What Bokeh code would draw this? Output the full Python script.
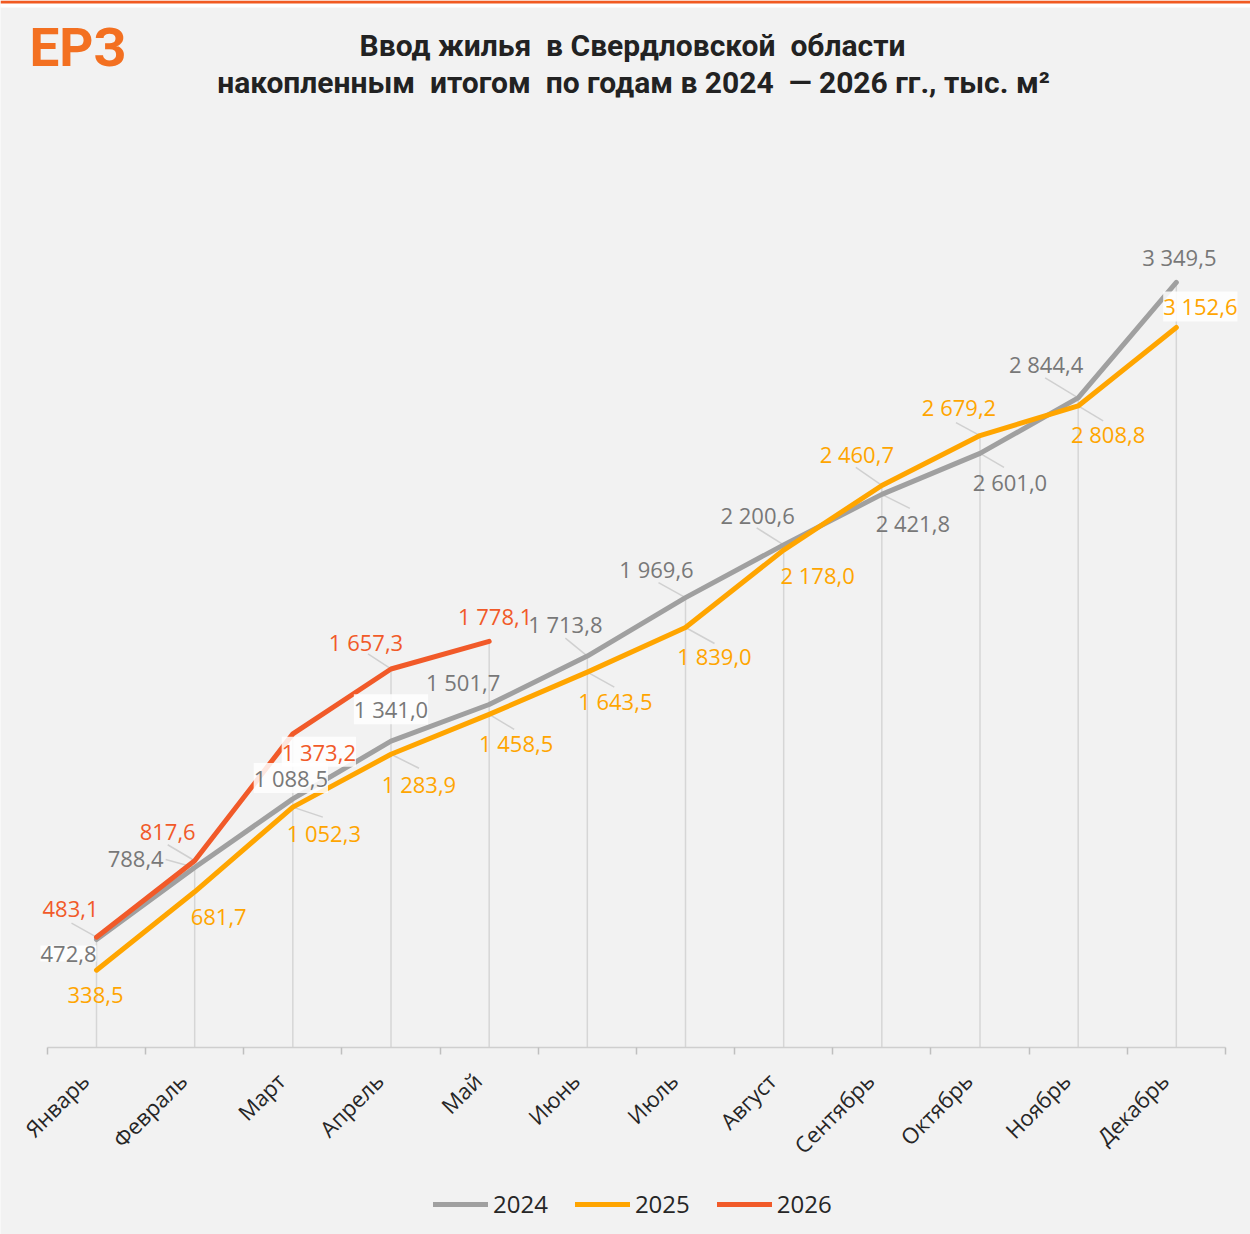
import math
from bokeh.plotting import figure
from bokeh.models import (ColumnDataSource, Range1d, FixedTicker, LabelSet, Label,
                          Legend, LegendItem, CustomJSTickFormatter)
from bokeh.core.properties import value
from bokeh.embed import file_html
from bokeh.resources import INLINE

# ---------------- data ----------------
months = ["Январь", "Февраль", "Март", "Апрель", "Май", "Июнь", "Июль",
          "Август", "Сентябрь", "Октябрь", "Ноябрь", "Декабрь"]
y2024 = [472.8, 788.4, 1088.5, 1341.0, 1501.7, 1713.8, 1969.6, 2200.6,
         2421.8, 2601.0, 2844.4, 3349.5]
y2025 = [338.5, 681.7, 1052.3, 1283.9, 1458.5, 1643.5, 1839.0, 2178.0,
         2460.7, 2679.2, 2808.8, 3152.6]
y2026 = [483.1, 817.6, 1373.2, 1657.3, 1778.1]
years = ["2024", "2025", "2026"]

NB = "\u00a0"
TITLE1 = f"Ввод жилья {NB}в Свердловской {NB}области"
TITLE2 = f"накопленным {NB}итогом {NB}по годам в 2024 {NB}— 2026 гг., тыс. м²"
LOGO = "ЕРЗ"

# ---------------- style / layout ----------------
W, H = 1250, 1234
AXIS_Y = 1047              # pixel row of the x axis
FIRST_X = 96               # pixel column of first category
PX_X = 1178 / 12.0         # pixels per category
PX_Y = 0.2284              # pixels per unit
X0 = -FIRST_X / PX_X
X1 = (W - FIRST_X) / PX_X
YEND = AXIS_Y / PX_Y
YSTART = -(H - AXIS_Y) / PX_Y
LABEL_SHIFT = 12 / PX_X    # tick labels sit slightly left of the category centre

BG = "#f2f2f2"
C24, C25, C26 = "#a0a0a0", "#ffa500", "#f15a29"
T24, T25, T26 = "#787878", "#ffa500", "#f15a29"
FONT = "Open Sans"

# label offsets (px, y up), background flag, leader offset (px) or None
off24 = [(-28, -14), (-59, 8), (-2, 21), (0, 32), (-26, 23), (-22, 32),
         (-29, 29), (-26, 30), (31, -29), (30, -29), (-32, 34), (3, 25)]
bg24 = [True, False, True, True] + [False] * 8
lead24 = [None, (-29, 8), None, None, None, (-22, 18), (-27, 15), (-27, 17),
          (28, -14), (24, -14), (-33, 20), None]

off25 = [(-1, -25), (24, -25), (31, -26), (28, -30), (27, -29), (28, -29),
         (29, -29), (34, -25), (-25, 31), (-21, 29), (30, -28), (24, 21)]
bg25 = [False] * 11 + [True]
lead25 = [None, None, (30, -10), (28, -14), (25, -15), (27, -15), (29, -16),
          None, (-26, 18), (-24, 13), (25, -15), None]

off26 = [(-26, 28), (-27, 29), (26, -18), (-25, 27), (6, 25)]
bg26 = [False, False, True, False, False]
lead26 = [(-25, 14), (-27, 16), None, (-23, 15), None]


def fmt(v):
    return f"{v:,.1f}".replace(",", " ").replace(".", ",")


p = figure(width=W, height=H, output_backend="svg", toolbar_location=None,
           x_range=Range1d(X0, X1), y_range=Range1d(YSTART, YEND),
           min_border_left=0, min_border_right=0, min_border_top=0,
           min_border_bottom=0, background_fill_color=BG,
           border_fill_color=BG, outline_line_color=None)
p.xgrid.visible = False
p.ygrid.visible = False
p.yaxis.visible = False

xs = list(range(12))

# page decoration: orange rule and white strip at the very top
p.quad(left=X0, right=X1, top=YEND, bottom=YEND - 7 / PX_Y, fill_color="white", line_color=None)
p.quad(left=X0, right=X1, top=YEND, bottom=YEND - 3 / PX_Y, fill_color="#f15a22", line_color=None)

# drop lines
drop_top = []
for i in xs:
    cand = [y2024[i], y2025[i]] + ([y2026[i]] if i < len(y2026) else [])
    drop_top.append(max(cand))
p.segment(x0=xs, y0=[0] * 12, x1=xs, y1=drop_top, line_color="#d6d6d6", line_width=1.5)

# leader lines
lx0, ly0, lx1, ly1 = [], [], [], []
for vals, leads in ((y2024, lead24), (y2025, lead25), (y2026, lead26)):
    for i, (v, ld) in enumerate(zip(vals, leads)):
        if ld is None:
            continue
        lx0.append(i)
        ly0.append(v)
        lx1.append(i + ld[0] / PX_X)
        ly1.append(v + ld[1] / PX_Y)
p.segment(x0=lx0, y0=ly0, x1=lx1, y1=ly1, line_color="#d0d0d0", line_width=1.5)

# series lines
r24 = p.line(xs, y2024, line_color=C24, line_width=5, line_cap="round", line_join="round")
r25 = p.line(xs, y2025, line_color=C25, line_width=5, line_cap="round", line_join="round")
r26 = p.line(xs[:len(y2026)], y2026, line_color=C26, line_width=5, line_cap="round", line_join="round")

# data labels
for vals, offs, bgs, col in ((y2024, off24, bg24, T24), (y2025, off25, bg25, T25),
                             (y2026, off26, bg26, T26)):
    for with_bg in (True, False):
        idx = [i for i in range(len(vals)) if bgs[i] == with_bg]
        if not idx:
            continue
        src = ColumnDataSource(dict(
            x=[xs[i] for i in idx], y=[vals[i] for i in idx],
            t=[fmt(vals[i]) for i in idx],
            dx=[offs[i][0] for i in idx], dy=[offs[i][1] for i in idx]))
        kw = {}
        if with_bg:
            kw = dict(background_fill_color="white", background_fill_alpha=0.85)
        ls = LabelSet(x="x", y="y", text="t", x_offset="dx", y_offset="dy", source=src,
                      text_align="center", text_baseline="middle",
                      text_font=value(FONT), text_font_size="22px", text_color=col, **kw)
        p.add_layout(ls)

# axis (drawn at y = 0 inside the frame)
ax = p.xaxis[0]
ax.fixed_location = 0
ax.bounds = (-0.5, 11.5)
ax.ticker = FixedTicker(ticks=[i - LABEL_SHIFT for i in xs],
                        minor_ticks=[i - 0.5 for i in range(13)])
ax.formatter = CustomJSTickFormatter(args=dict(labels=months),
                                     code="return labels[Math.round(tick)] || '';")
ax.major_tick_out = 0
ax.major_tick_in = 0
ax.minor_tick_out = 7
ax.minor_tick_in = 0
ax.minor_tick_line_color = "#bfbfbf"
ax.minor_tick_line_width = 1.5
ax.axis_line_color = "#cfcfcf"
ax.axis_line_width = 1.5
ax.major_label_orientation = math.pi / 4
ax.major_label_text_font = FONT
ax.major_label_text_font_size = "22px"
ax.major_label_text_color = "#262626"
ax.major_label_standoff = 22

# legend
legend = Legend(items=[LegendItem(label=years[0], renderers=[r24]),
                       LegendItem(label=years[1], renderers=[r25]),
                       LegendItem(label=years[2], renderers=[r26])],
                orientation="horizontal", location=(433, 14),
                glyph_width=55, glyph_height=20, label_standoff=5, spacing=27,
                padding=0, margin=0, border_line_color=None,
                background_fill_alpha=0, label_text_font=FONT,
                label_text_font_size="24px", label_text_color="#262626")
p.add_layout(legend)

# title & logo (screen units measured from the bottom-left of the frame)
p.add_layout(Label(x=632, y=H - 45, x_units="screen", y_units="screen", text=TITLE1,
                   text_align="center", text_baseline="middle", text_font="Roboto",
                   text_font_style="bold", text_font_size="30px", text_color="#222222"))
p.add_layout(Label(x=633, y=H - 82, x_units="screen", y_units="screen", text=TITLE2,
                   text_align="center", text_baseline="middle", text_font="Roboto",
                   text_font_style="bold", text_font_size="30px", text_color="#222222"))
p.add_layout(Label(x=29, y=H - 47, x_units="screen", y_units="screen", text=LOGO,
                   text_align="left", text_baseline="middle", text_font="Roboto",
                   text_font_style="bold", text_font_size="53px", text_color="#f37021"))

open("out.html", "w").write(file_html(p, INLINE))
